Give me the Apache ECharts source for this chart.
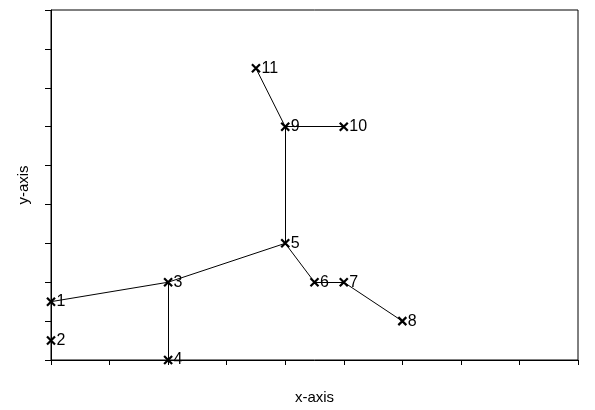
<!DOCTYPE html>
<html>
<head>
<meta charset="utf-8">
<script src="https://cdn.jsdelivr.net/npm/echarts@6/dist/echarts.min.js"></script>
<style>
  html, body { margin: 0; padding: 0; background: #fff; }
  #main { width: 595px; height: 410px; }
</style>
</head>
<body>
<div id="main"></div>
<script>
  // node labels and positions
  var nodeNames = ['1', '2', '3', '4', '5', '6', '7', '8', '9', '10', '11']
  var nodeX = [0, 0, 2, 2, 4, 4.5, 5, 6, 4, 5, 3.5]
  var nodeY = [1.5, 0.5, 2, 0, 3, 2, 2, 1, 6, 6, 7.5]
  // edges between nodes (by label)
  var edges = [
    ['1', '2'], ['1', '3'], ['3', '4'], ['3', '5'], ['5', '6'],
    ['6', '7'], ['7', '8'], ['5', '9'], ['9', '10'], ['9', '11']
  ]

  var nodes = nodeNames.map(function (n, i) {
    return { name: n, value: [nodeX[i], nodeY[i]] }
  })
  var links = edges.map(function (e) {
    return { source: e[0], target: e[1] }
  })

  var chart = echarts.init(document.getElementById('main'))
  chart.setOption({
    animation: false,
    grid: {
      left: 51, right: 17, top: 10, bottom: 49,
      show: true, borderColor: '#000', borderWidth: 1
    },
    xAxis: {
      type: 'value', min: 0, max: 9, interval: 1,
      name: 'x-axis', nameLocation: 'middle', nameGap: 30,
      nameTextStyle: { fontFamily: 'Liberation Sans', fontSize: 15, color: '#000' },
      axisLine: { lineStyle: { color: '#000', width: 1 } },
      axisTick: { show: true, length: 5, lineStyle: { color: '#000' } },
      axisLabel: { show: false },
      splitLine: { show: false }
    },
    yAxis: {
      type: 'value', min: 0, max: 9, interval: 1,
      name: 'y-axis', nameLocation: 'middle', nameGap: 20,
      nameTextStyle: { fontFamily: 'Liberation Sans', fontSize: 15, color: '#000' },
      axisLine: { show: true, lineStyle: { color: '#000', width: 1 } },
      axisTick: { show: true, length: 6, lineStyle: { color: '#000' } },
      axisLabel: { show: false },
      splitLine: { show: false }
    },
    series: [
      {
        type: 'graph',
        coordinateSystem: 'cartesian2d',
        symbol: 'path://M0,0L10,10M10,0L0,10',
        symbolSize: 8,
        itemStyle: { color: 'none', borderColor: '#000', borderWidth: 2.2 },
        lineStyle: { color: '#000', width: 1, opacity: 1, curveness: 0 },
        label: {
          show: true, position: 'right', distance: -1,
          formatter: '{b}',
          fontFamily: 'Liberation Sans', fontSize: 16, color: '#000'
        },
        emphasis: { disabled: true },
        data: nodes,
        links: links
      }
    ]
  })
</script>
</body>
</html>
